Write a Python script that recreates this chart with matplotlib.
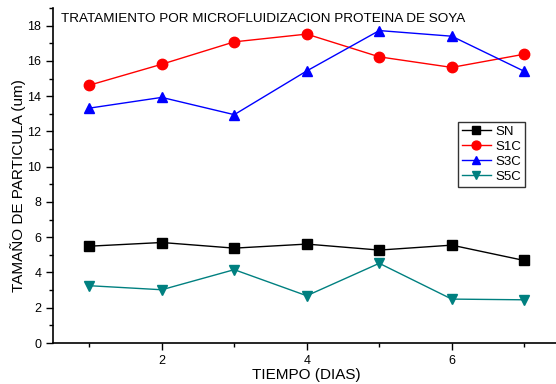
import numpy as np
import matplotlib.pyplot as plt
from matplotlib.ticker import MultipleLocator

plt.rcParams['font.family'] = ['Liberation Sans', 'DejaVu Sans']

dias = [1, 2, 3, 4, 5, 6, 7]
sn = [5.49, 5.70, 5.38, 5.61, 5.27, 5.55, 4.68]
s1c = [14.62, 15.81, 17.08, 17.52, 16.23, 15.63, 16.38]
s3c = [13.32, 13.93, 12.95, 15.43, 17.72, 17.40, 15.41]
s5c = [3.25, 3.02, 4.16, 2.68, 4.52, 2.49, 2.45]

fig = plt.figure(figsize=(5.56, 3.84), dpi=100)
ax = fig.add_axes([53/556, 1-343/384, 507.5/556, (343-8)/384])

ax.plot(dias, sn, '-s', color='black', lw=1, ms=6.5, label='SN')
ax.plot(dias, s1c, '-o', color='red', lw=1, ms=7.5, label='S1C')
ax.plot(dias, s3c, '-^', color='blue', lw=1, ms=7.5, label='S3C')
ax.plot(dias, s5c, '-v', color='#008080', lw=1, ms=7.5, label='S5C')

ax.set_xlim(0.5, 7.5)
ax.set_ylim(0, 19)
ax.xaxis.set_major_locator(MultipleLocator(2))
ax.xaxis.set_minor_locator(MultipleLocator(1))
ax.yaxis.set_major_locator(MultipleLocator(2))
ax.yaxis.set_minor_locator(MultipleLocator(1))
ax.tick_params(which='both', direction='out', labelsize=9, width=1)
ax.tick_params(which='major', length=5)
ax.tick_params(which='minor', length=3)

ax.spines['right'].set_color('none')
ax.spines['top'].set_color('none')
for s in ['left', 'bottom']:
    ax.spines[s].set_linewidth(1.2)

ax.set_xlabel('TIEMPO (DIAS)', fontsize=11, labelpad=1)
ax.set_ylabel('TAMAÑO DE PARTICULA (um)', fontsize=11)
ax.yaxis.set_label_coords(-0.053, 0.47)
ax.text(0.015, 0.985, 'TRATAMIENTO POR MICROFLUIDIZACION PROTEINA DE SOYA',
        transform=ax.transAxes, fontsize=9.7, va='top', ha='left')

leg = ax.legend(loc='upper left', bbox_to_anchor=(0.798, 0.66), fontsize=9.5,
                frameon=True, fancybox=False, edgecolor='black',
                handlelength=2.2, handletextpad=0.3, borderpad=0.3,
                labelspacing=0.2, borderaxespad=0, markerscale=0.85)
leg.get_frame().set_linewidth(1)

fig.savefig('out.png', dpi=100)
